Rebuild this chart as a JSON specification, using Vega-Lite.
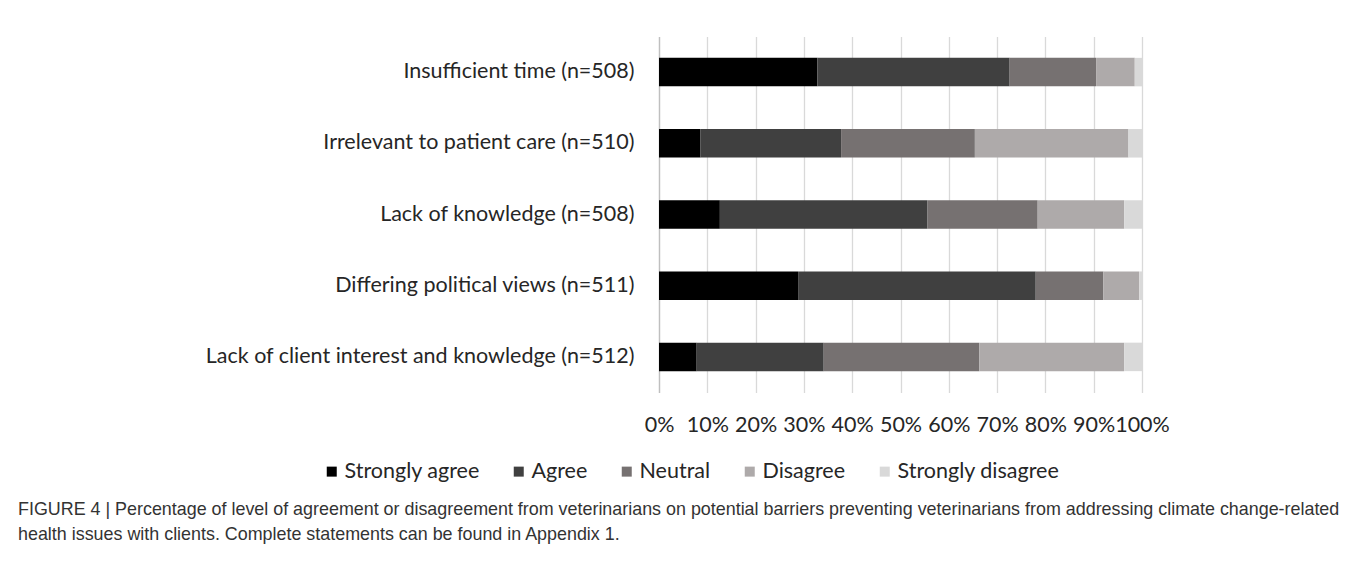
{
  "$schema": "https://vega.github.io/schema/vega-lite/v6.json",
  "autosize": {"type": "none"},
  "width": 483,
  "height": 356,
  "padding": {"left": 659, "top": 36.5, "right": 216, "bottom": 178.5},
  "background": "#ffffff",
  "title": {
    "text": [
      "FIGURE 4 | Percentage of level of agreement or disagreement from veterinarians on potential barriers preventing veterinarians from addressing climate change-related",
      "health issues with clients. Complete statements can be found in Appendix 1."
    ],
    "orient": "bottom",
    "anchor": "start",
    "frame": "group",
    "dx": -641,
    "offset": 18,
    "font": "Liberation Sans, Arial",
    "fontSize": 17.9,
    "fontWeight": "normal",
    "lineHeight": 25,
    "color": "#333333",
    "baseline": "top"
  },
  "data": {
    "values": [
      {"statement": "Insufficient time (n=508)", "level": "Strongly agree", "percent": 32.8},
      {"statement": "Insufficient time (n=508)", "level": "Agree", "percent": 39.8},
      {"statement": "Insufficient time (n=508)", "level": "Neutral", "percent": 17.9},
      {"statement": "Insufficient time (n=508)", "level": "Disagree", "percent": 8.0},
      {"statement": "Insufficient time (n=508)", "level": "Strongly disagree", "percent": 1.5},
      {"statement": "Irrelevant to patient care (n=510)", "level": "Strongly agree", "percent": 8.6},
      {"statement": "Irrelevant to patient care (n=510)", "level": "Agree", "percent": 29.1},
      {"statement": "Irrelevant to patient care (n=510)", "level": "Neutral", "percent": 27.7},
      {"statement": "Irrelevant to patient care (n=510)", "level": "Disagree", "percent": 31.8},
      {"statement": "Irrelevant to patient care (n=510)", "level": "Strongly disagree", "percent": 2.8},
      {"statement": "Lack of knowledge (n=508)", "level": "Strongly agree", "percent": 12.6},
      {"statement": "Lack of knowledge (n=508)", "level": "Agree", "percent": 43.0},
      {"statement": "Lack of knowledge (n=508)", "level": "Neutral", "percent": 22.8},
      {"statement": "Lack of knowledge (n=508)", "level": "Disagree", "percent": 17.9},
      {"statement": "Lack of knowledge (n=508)", "level": "Strongly disagree", "percent": 3.7},
      {"statement": "Differing political views (n=511)", "level": "Strongly agree", "percent": 28.8},
      {"statement": "Differing political views (n=511)", "level": "Agree", "percent": 49.2},
      {"statement": "Differing political views (n=511)", "level": "Neutral", "percent": 14.0},
      {"statement": "Differing political views (n=511)", "level": "Disagree", "percent": 7.4},
      {"statement": "Differing political views (n=511)", "level": "Strongly disagree", "percent": 0.6},
      {"statement": "Lack of client interest and knowledge (n=512)", "level": "Strongly agree", "percent": 7.8},
      {"statement": "Lack of client interest and knowledge (n=512)", "level": "Agree", "percent": 26.3},
      {"statement": "Lack of client interest and knowledge (n=512)", "level": "Neutral", "percent": 32.2},
      {"statement": "Lack of client interest and knowledge (n=512)", "level": "Disagree", "percent": 30.0},
      {"statement": "Lack of client interest and knowledge (n=512)", "level": "Strongly disagree", "percent": 3.7}
    ]
  },
  "transform": [
    {"calculate": "indexof(['Strongly agree', 'Agree', 'Neutral', 'Disagree', 'Strongly disagree'], datum.level)", "as": "levelOrder"}
  ],
  "mark": {"type": "bar"},
  "encoding": {
    "y": {
      "field": "statement",
      "type": "nominal",
      "sort": [
        "Insufficient time (n=508)",
        "Irrelevant to patient care (n=510)",
        "Lack of knowledge (n=508)",
        "Differing political views (n=511)",
        "Lack of client interest and knowledge (n=512)"
      ],
      "scale": {"paddingInner": 0.6, "paddingOuter": 0.3},
      "axis": {
        "title": null,
        "ticks": false,
        "domain": true,
        "domainColor": "#bfbfbf",
        "domainWidth": 1.3,
        "labelFont": "Lato",
        "labelFontSize": 21.5,
        "labelColor": "#262626",
        "labelPadding": 25,
        "labelLimit": 600
      }
    },
    "x": {
      "field": "percent",
      "type": "quantitative",
      "stack": "zero",
      "scale": {"domain": [0, 100], "nice": false},
      "axis": {
        "title": null,
        "values": [0, 10, 20, 30, 40, 50, 60, 70, 80, 90, 100],
        "labelExpr": "datum.value + '%'",
        "ticks": false,
        "domain": false,
        "grid": true,
        "gridColor": "#d9d9d9",
        "gridWidth": 1.3,
        "labelFont": "Lato",
        "labelFontSize": 21.5,
        "labelColor": "#262626",
        "labelBaseline": "middle",
        "labelPadding": 33,
        "labelFlush": false,
        "labelOverlap": false
      }
    },
    "color": {
      "field": "level",
      "type": "nominal",
      "scale": {
        "domain": ["Strongly agree", "Agree", "Neutral", "Disagree", "Strongly disagree"],
        "range": ["#000000", "#404040", "#767171", "#aeaaaa", "#d9d9d9"]
      },
      "legend": {
        "title": null,
        "orient": "none",
        "direction": "horizontal",
        "legendX": -338,
        "legendY": 424,
        "symbolType": "square",
        "symbolSize": 100,
        "symbolStrokeWidth": 0,
        "labelFont": "Lato",
        "labelFontSize": 21.5,
        "labelColor": "#262626",
        "labelOffset": 2,
        "labelLimit": 400,
        "columnPadding": 28
      }
    },
    "order": {"field": "levelOrder", "type": "quantitative", "sort": "ascending"}
  },
  "config": {
    "view": {"stroke": null}
  }
}
